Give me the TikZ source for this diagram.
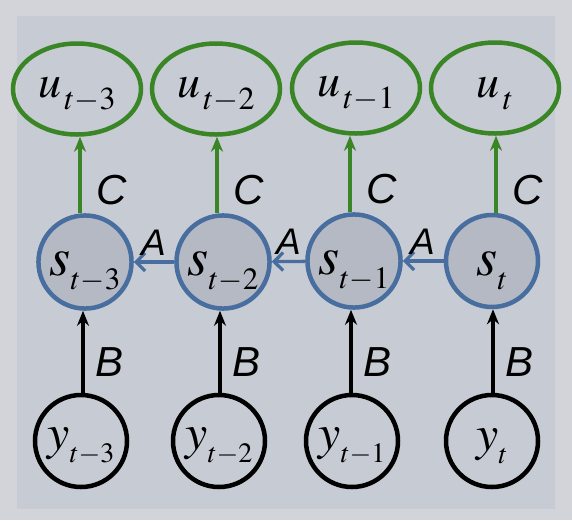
\documentclass[tikz,border=0pt]{standalone}
\usepackage{mathptmx}
\usepackage{fontspec}
\newfontfamily\labfont{Liberation Sans}
\usetikzlibrary{shapes.geometric,arrows.meta}
\definecolor{outerbg}{RGB}{211,212,217}
\definecolor{innerbg}{RGB}{199,203,211}
\definecolor{ugreen}{RGB}{58,133,38}
\definecolor{sblue}{RGB}{72,110,160}
\definecolor{sfill}{RGB}{180,185,196}
% #1 letter, #2 subscript, #3 main size, #4 sub size, #5 drop, #6 gap, #7 strut height
\newcommand\varlab[7]{\rule{0pt}{#7}{\fontsize{#3}{#3}\selectfont$#1$}\hspace{#6}\raisebox{-#5}{\fontsize{#4}{#4}\selectfont$#2$}}
\newcommand\ulab[1]{\varlab{u}{#1}{46pt}{32pt}{12pt}{3pt}{31pt}}
\newcommand\slab[1]{\varlab{s}{#1}{54pt}{31pt}{14pt}{0pt}{44pt}}
\newcommand\ylab[1]{\varlab{y}{#1}{50pt}{28pt}{13pt}{0pt}{32pt}}
\begin{document}
\begin{tikzpicture}[x=1pt,y=-1pt,
  uell/.style={ellipse, draw=ugreen, line width=4.5pt, minimum width=128pt, minimum height=91pt, inner sep=0pt},
  snode/.style={circle, draw=sblue, fill=sfill, line width=4.5pt, minimum size=92pt, inner sep=0pt},
  ynode/.style={circle, draw=black, line width=4.5pt, minimum size=92pt, inner sep=0pt},
  carrow/.style={draw=ugreen, line width=3.3pt, -{Stealth[length=15pt,width=12pt]}},
  barrow/.style={draw=black, line width=3.3pt, -{Stealth[length=15pt,width=12pt]}},
  aarrow/.style={draw=sblue, line width=3.3pt, -{Straight Barb[length=9pt,width=18pt,line width=3.3pt]}},
  elab/.style={font=\labfont\itshape\fontsize{42}{46}\selectfont, inner sep=0pt},
  alab/.style={font=\labfont\itshape\fontsize{37}{40}\selectfont, inner sep=0pt}
]
\useasboundingbox (0,0) rectangle (572,520);
\fill[outerbg] (0,0) rectangle (572,520);
\fill[innerbg] (17,16) rectangle (555,509);

\node[uell] (u1) at (77,89) {\ulab{t{-}3}};
\node[uell] (u2) at (216,89) {\ulab{t{-}2}};
\node[uell] (u3) at (356,88) {\ulab{t{-}1}};
\node[uell] (u4) at (495,88) {\ulab{t}};

\node[snode] (s1) at (85,262) {\slab{t{-}3}};
\node[snode] (s2) at (223,262) {\slab{t{-}2}};
\node[snode] (s3) at (354,261) {\slab{t{-}1}};
\node[snode] (s4) at (492,261) {\slab{t}};

\node[ynode] (y1) at (81,441) {\ylab{t{-}3}};
\node[ynode] (y2) at (219,441) {\ylab{t{-}2}};
\node[ynode] (y3) at (352,441) {\ylab{t{-}1}};
\node[ynode] (y4) at (492,441) {\ylab{t}};

\coordinate (cx1) at (80,0);
\coordinate (cx2) at (217,0);
\coordinate (cx3) at (350,0);
\coordinate (cx4) at (496,0);
\coordinate (bx1) at (83,0);
\coordinate (bx2) at (220,0);
\coordinate (bx3) at (351,0);
\coordinate (bx4) at (493,0);

\foreach \i in {1,2,3,4}{
  \draw[carrow] (s\i.north -| cx\i) -- (u\i.south -| cx\i) node[elab, pos=0.3, anchor=west, xshift=15pt] (c\i) {C};
  \draw[barrow] (y\i.north -| bx\i) -- (s\i.south -| bx\i) node[elab, pos=0.37, anchor=west, xshift=11pt] (b\i) {B};
}
\draw[aarrow] (s2) -- (s1) node[alab, midway, anchor=south, yshift=5pt] (a1) {A};
\draw[aarrow] (s3) -- (s2) node[alab, midway, anchor=south, yshift=5pt] (a2) {A};
\draw[aarrow] (s4) -- (s3) node[alab, midway, anchor=south, yshift=5pt] (a3) {A};
\end{tikzpicture}
\end{document}
